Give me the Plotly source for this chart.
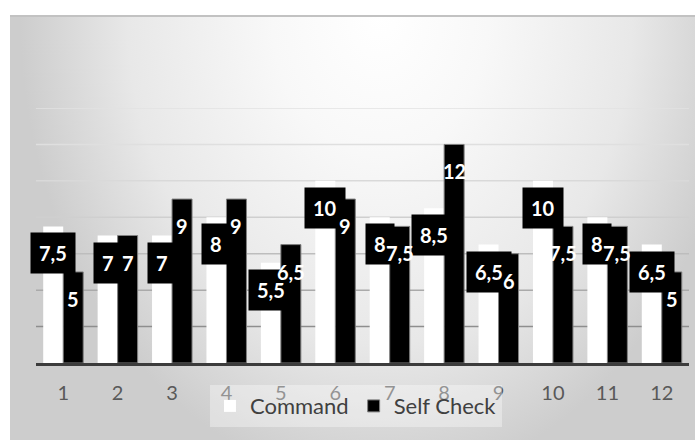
import base64
import plotly.graph_objects as go

# ---- data ----
categories = [1, 2, 3, 4, 5, 6, 7, 8, 9, 10, 11, 12]
tick_labels = ["1", "2", "3", "4", "5", "6", "7", "8", "9", "10", "11", "12"]
command = [7.5, 7, 7, 8, 5.5, 10, 8, 8.5, 6.5, 10, 8, 6.5]
self_check = [5, 7, 9, 9, 6.5, 9, 7.5, 12, 6, 7.5, 7.5, 5]
series_names = ["Command", "Self Check"]


def fmt(v):
    return f"{v:g}".replace(".", ",")


BARGAP = 0.265
OFF = (1 - BARGAP) / 4.0
FONT = "Lato, 'Open Sans', sans-serif"

# ---- background gradient (chart area) as inline SVG ----
svg = (
    '<svg xmlns="http://www.w3.org/2000/svg" width="685" height="425" '
    'viewBox="0 0 685 425" preserveAspectRatio="none">'
    '<defs><radialGradient id="g" gradientUnits="userSpaceOnUse" cx="0" cy="0" r="1" '
    'gradientTransform="translate(370,0) scale(360,470)">'
    '<stop offset="0" stop-color="#ffffff"/>'
    '<stop offset="0.3" stop-color="#f8f8f8"/>'
    '<stop offset="0.7" stop-color="#e8e8e8"/>'
    '<stop offset="1" stop-color="#cdcdcd"/>'
    '</radialGradient></defs>'
    '<rect x="0" y="0" width="685" height="425" fill="url(#g)"/>'
    '<rect x="0" y="0" width="685" height="2" fill="#c2c2c2"/>'
    '</svg>'
)
svg_uri = "data:image/svg+xml;base64," + base64.b64encode(svg.encode()).decode()

fig = go.Figure()
fig.add_trace(go.Bar(
    x=categories, y=command, name=series_names[0],
    marker=dict(color="#ffffff", line=dict(width=0)),
))
fig.add_trace(go.Bar(
    x=categories, y=self_check, name=series_names[1],
    marker=dict(color="#000000", line=dict(color="#808080", width=1)),
))

annotations = []
for c, v in zip(categories, command):
    annotations.append(dict(
        x=c - OFF, y=v, xref="x", yref="y", text=f"<b>{fmt(v)}</b>",
        showarrow=False, yanchor="middle", xanchor="center", yshift=-27,
        bgcolor="#000000", borderpad=8,
        font=dict(family=FONT, size=20, color="#ffffff"),
    ))
for c, v in zip(categories, self_check):
    annotations.append(dict(
        x=c + OFF, y=v, xref="x", yref="y", text=f"<b>{fmt(v)}</b>",
        showarrow=False, yanchor="middle", xanchor="center", yshift=-27,
        font=dict(family=FONT, size=20, color="#ffffff"),
    ))

# gridlines with colours fading towards the top
grid_vals = [2, 4, 6, 8, 10, 12, 14]
grid_cols = ["#8e8e8e", "#aaaaaa", "#bdbdbd", "#cfcfcf", "#d9d9d9", "#dfdfdf", "#e2e2e2"]
shapes = []
for gv, gc in zip(grid_vals, grid_cols):
    shapes.append(dict(type="line", xref="paper", yref="y", x0=0, x1=1, y0=gv, y1=gv,
                       line=dict(color=gc, width=1.5), layer="below"))

fig.update_layout(
    width=695, height=440,
    margin=dict(l=36, r=6, t=108, b=77),
    paper_bgcolor="#ffffff", plot_bgcolor="rgba(0,0,0,0)",
    barmode="group", bargap=BARGAP, bargroupgap=0,
    font=dict(family=FONT, color="#595959"),
    showlegend=True,
    legend=dict(orientation="h", x=0.49, xanchor="center", y=-0.169, yanchor="middle",
                bgcolor="rgba(255,255,255,0.35)", font=dict(family=FONT, size=22, color="#404040"),
                itemwidth=30, traceorder="normal"),
    annotations=annotations,
    shapes=shapes,
    images=[dict(source=svg_uri, xref="paper", yref="paper",
                 x=(10 - 36) / 653, y=(363 - 15) / 255,
                 sizex=685 / 653, sizey=425 / 255,
                 sizing="stretch", xanchor="left", yanchor="top", layer="below")],
)
fig.update_xaxes(
    range=[0.5, 12.5], tickmode="array", tickvals=categories, ticktext=tick_labels,
    showgrid=False, zeroline=False, showline=True, linecolor="#3c3c3c", linewidth=3,
    ticks="", ticklabelstandoff=10,
    tickfont=dict(family=FONT, size=20, color="#595959"),
)
fig.update_yaxes(range=[0, 14], showgrid=False, zeroline=False, showticklabels=False,
                 showline=False, ticks="")

fig.write_html("out.html")
